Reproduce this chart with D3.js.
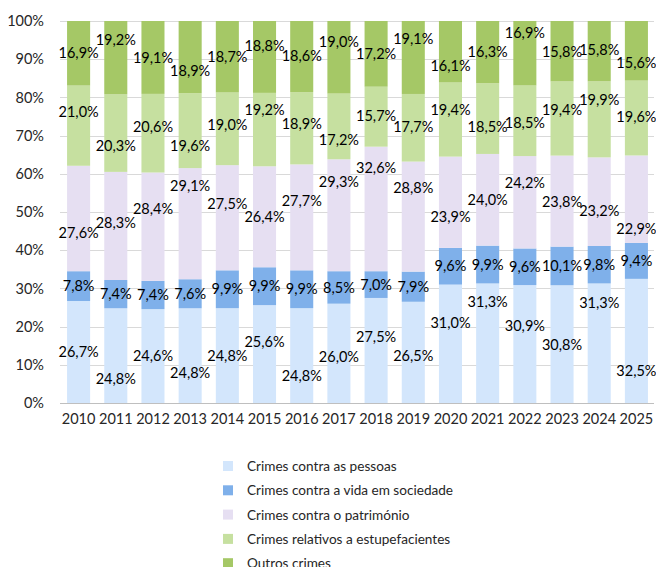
<!DOCTYPE html>
<html>
<head>
<meta charset="utf-8">
<script src="https://cdn.jsdelivr.net/npm/d3@7"></script>
<style>
  html, body { margin: 0; padding: 0; background: #fff; }
  svg { display: block; }
  text { font-family: Lato, "Open Sans", sans-serif; }
</style>
</head>
<body>
<svg id="chart" width="656" height="567"></svg>
<script>
// ---------- data ----------
const years = ["2010","2011","2012","2013","2014","2015","2016","2017","2018","2019","2020","2021","2022","2023","2024","2025"];
const seriesNames = [
  "Crimes contra as pessoas",
  "Crimes contra a vida em sociedade",
  "Crimes contra o património",
  "Crimes relativos a estupefacientes",
  "Outros crimes"
];
const pessoas      = [26.7,24.8,24.6,24.8,24.8,25.6,24.8,26.0,27.5,26.5,31.0,31.3,30.9,30.8,31.3,32.5];
const vidaSociedade= [7.8,7.4,7.4,7.6,9.9,9.9,9.9,8.5,7.0,7.9,9.6,9.9,9.6,10.1,9.8,9.4];
const patrimonio   = [27.6,28.3,28.4,29.1,27.5,26.4,27.7,29.3,32.6,28.8,23.9,24.0,24.2,23.8,23.2,22.9];
const estupef      = [21.0,20.3,20.6,19.6,19.0,19.2,18.9,17.2,15.7,17.7,19.4,18.5,18.5,19.4,19.9,19.6];
const outros       = [16.9,19.2,19.1,18.9,18.7,18.8,18.6,19.0,17.2,19.1,16.1,16.3,16.9,15.8,15.8,15.6];
const yTicks = [0,0.1,0.2,0.3,0.4,0.5,0.6,0.7,0.8,0.9,1.0];

// ---------- layout / style ----------
const colors = ["#D3E6FC","#7FB0EA","#E6DFF2","#C6E0A0","#A5C866"];
// vertical nudges (px) of the data labels, as placed in the original
const labelNudge = [
  [0,23,0,17,0,-12,20,3,-14,3,-21,-41,-18,1,-40,30],
  [0,0,0,0,0,0,0,0,0,0,0,0,0,0,0,0],
  [14,-3,-18,-38,-14,0,-17,-33,-41,-29,15,0,-19,1,9,30],
  [-14,13,-6,15,-4,-20,-4,13,-1,-1,-10,8,2,-9,-20,-1],
  [0,-18,0,14,0,-11,-1,-16,0,-19,14,0,-20,1,-1,12]
];
const margin = {left: 60, right: 1, top: 21, bottom: 164};
const W = 656, H = 567;

const svg = d3.select("#chart");
const x = d3.scaleBand().domain(years).range([margin.left, W - margin.right]).paddingInner(0.38).paddingOuter(0.19);
const y = d3.scaleLinear().domain([0,1]).range([H - margin.bottom, margin.top]);

const rows = years.map((yr, i) => ({
  year: yr, s0: pessoas[i], s1: vidaSociedade[i], s2: patrimonio[i], s3: estupef[i], s4: outros[i]
}));
const keys = ["s0","s1","s2","s3","s4"];
const stack = d3.stack().keys(keys).offset(d3.stackOffsetExpand);
const stacked = stack(rows);

// gridlines
svg.append("g").selectAll("line").data(yTicks.slice(1)).join("line")
  .attr("x1", margin.left).attr("x2", W - 2)
  .attr("y1", d => Math.round(y(d)) + 0.5).attr("y2", d => Math.round(y(d)) + 0.5)
  .attr("stroke", "#D9D9D9").attr("stroke-width", 1);

// bars
svg.append("g").selectAll("g").data(stacked).join("g")
  .attr("fill", (d, i) => colors[i])
  .selectAll("rect").data(d => d).join("rect")
  .attr("x", d => x(d.data.year))
  .attr("width", x.bandwidth())
  .attr("y", d => y(d[1]))
  .attr("height", d => y(d[0]) - y(d[1]));

// baseline axis
svg.append("line")
  .attr("x1", margin.left).attr("x2", W - 2)
  .attr("y1", Math.round(y(0)) + 0.5).attr("y2", Math.round(y(0)) + 0.5)
  .attr("stroke", "#BFBFBF");

// y axis labels
const yAxis = d3.axisLeft(y).tickValues(yTicks).tickFormat(d3.format(".0%")).tickSize(0).tickPadding(16);
const yg = svg.append("g").attr("transform", `translate(${margin.left},0)`).call(yAxis);
yg.select(".domain").remove();
yg.selectAll("text").attr("font-size", 14.5).attr("fill", "#262626").attr("font-family", "Lato, sans-serif");

// x axis labels
const xAxis = d3.axisBottom(x).tickSize(0).tickPadding(11);
const xg = svg.append("g").attr("transform", `translate(0,${y(0)})`).call(xAxis);
xg.select(".domain").remove();
xg.selectAll("text").attr("font-size", 14.5).attr("fill", "#262626").attr("font-family", "Lato, sans-serif");

// data labels
const fmt = v => d3.format(".1f")(v).replace(".", ",") + "%";
const raw = [pessoas, vidaSociedade, patrimonio, estupef, outros];
stacked.forEach((layer, si) => {
  svg.append("g").selectAll("text").data(layer).join("text")
    .attr("x", d => x(d.data.year) + x.bandwidth() / 2)
    .attr("y", (d, i) => y((d[0] + d[1]) / 2) + labelNudge[si][i])
    .attr("dy", "0.36em")
    .attr("text-anchor", "middle")
    .attr("font-size", 14.5)
    .attr("fill", "#000")
    .text((d, i) => fmt(raw[si][i]));
});

// legend
const lg = svg.append("g").attr("transform", "translate(223,461)");
const items = lg.selectAll("g").data(seriesNames).join("g")
  .attr("transform", (d, i) => `translate(0,${i * 24.3})`);
items.append("rect").attr("width", 10).attr("height", 10).attr("fill", (d, i) => colors[i]);
items.append("text").attr("x", 24).attr("y", 5).attr("dy", "0.36em")
  .attr("font-size", 13.6).attr("fill", "#262626").text(d => d);
</script>
</body>
</html>
